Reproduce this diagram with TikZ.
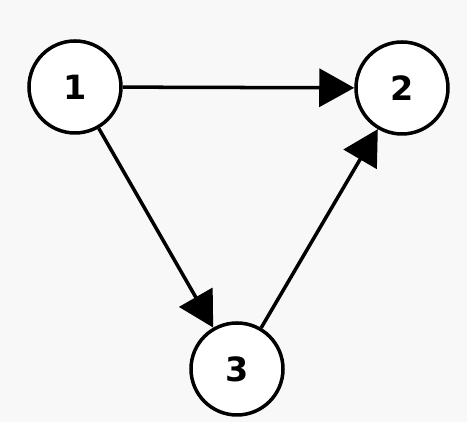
\documentclass[tikz,border=0pt]{standalone}
\usepackage{fontspec}
\setmainfont{DejaVu Sans}
\usepackage{xcolor}
\usetikzlibrary{arrows.meta, positioning}

\definecolor{bggray}{HTML}{F8F8F8}

\tikzset{
  vertex/.style={circle, draw=black, fill=white, line width=2pt, minimum size=1.84cm, inner sep=0pt, font=\fontsize{19}{21}\selectfont\bfseries},
  edge/.style={line width=2pt, -{Triangle[length=0.7cm, width=0.76cm]}}
}

\begin{document}
\begin{tikzpicture}
% Background
\fill[bggray] (0,0) rectangle (9.34,8.44);
\useasboundingbox (0,0) rectangle (9.34,8.44);

% Nodes
\node[vertex] (n1) at (1.5, 6.7) {1};
\node[vertex] (n2) at (8.04, 6.68) {2};
\node[vertex] (n3) at (4.74, 1.06) {3};

% Edges
\draw[edge] (n1) -- (n2);
\draw[edge] (n1) -- (n3);
\draw[edge] (n3) -- (n2);

\end{tikzpicture}
\end{document}
